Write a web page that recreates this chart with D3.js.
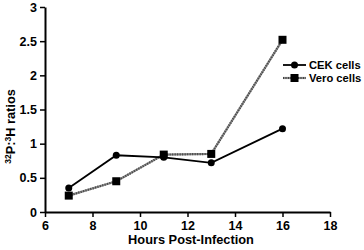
<!DOCTYPE html>
<html>
<head>
<meta charset="utf-8">
<script src="https://cdn.jsdelivr.net/npm/d3@7"></script>
<style>
  body { margin: 0; background: #fff; }
  text { font-family: "Liberation Sans", Arial, sans-serif; font-weight: bold; }
</style>
</head>
<body>
<svg width="364" height="250"></svg>
<script>
const hours = [7, 9, 11, 13, 16]
const cekValues = [0.35, 0.83, 0.80, 0.72, 1.22]
const veroValues = [0.24, 0.45, 0.84, 0.85, 2.52]
const xTicks = [6, 8, 10, 12, 14, 16, 18]
const yTicks = [0, 0.5, 1, 1.5, 2, 2.5, 3]

const svg = d3.select('svg')
const margin = { top: 7, right: 34, bottom: 38, left: 45 }
const width = +svg.attr('width') - margin.left - margin.right
const height = +svg.attr('height') - margin.top - margin.bottom
const g = svg.append('g').attr('transform', 'translate(' + margin.left + ',' + margin.top + ')')

const x = d3.scaleLinear().domain([6, 18]).range([0, width])
const y = d3.scaleLinear().domain([0, 3]).range([height, 0])

const xAxis = g.append('g')
  .attr('transform', 'translate(0,' + height + ')')
  .call(d3.axisBottom(x).tickValues(xTicks).tickSize(5).tickSizeOuter(0).tickPadding(4))
const yAxis = g.append('g')
  .call(d3.axisLeft(y).tickValues(yTicks).tickFormat(d3.format('')).tickSize(5).tickSizeOuter(0).tickPadding(3))

for (const ax of [xAxis, yAxis]) {
  ax.select('.domain').attr('stroke-width', 2)
  ax.selectAll('.tick line').attr('stroke-width', 1.5)
  ax.selectAll('text').attr('font-size', 12.5).attr('fill', '#000')
    .attr('font-family', '"Liberation Sans", Arial, sans-serif').attr('font-weight', 'bold')
}

const line = d3.line().x((d, i) => x(hours[i])).y(d => y(d))

// Vero cells - stippled grey
g.append('path').datum(veroValues)
  .attr('fill', 'none').attr('stroke', '#8a8a8a').attr('stroke-width', 2.2)
  .attr('d', line)
g.append('path').datum(veroValues)
  .attr('fill', 'none').attr('stroke', '#444').attr('stroke-width', 2.2)
  .attr('stroke-dasharray', '1,1.5')
  .attr('d', line)
g.selectAll('.vero').data(veroValues).enter().append('rect')
  .attr('x', (d, i) => x(hours[i]) - 4)
  .attr('y', d => y(d) - 4)
  .attr('width', 8).attr('height', 8)
  .attr('fill', '#000')

// CEK cells - solid black
g.append('path').datum(cekValues)
  .attr('fill', 'none').attr('stroke', '#000').attr('stroke-width', 1.8)
  .attr('d', line)
g.selectAll('.cek').data(cekValues).enter().append('circle')
  .attr('cx', (d, i) => x(hours[i]))
  .attr('cy', d => y(d))
  .attr('r', 3.5)
  .attr('fill', '#000')

// legend
const legend = svg.append('g').attr('transform', 'translate(283,65)')
legend.append('line').attr('x1', 0).attr('x2', 23).attr('y1', 0).attr('y2', 0)
  .attr('stroke', '#000').attr('stroke-width', 1.8)
legend.append('circle').attr('cx', 11.5).attr('cy', 0).attr('r', 3.5).attr('fill', '#000')
legend.append('text').attr('x', 26).attr('y', 4).attr('font-size', 11.2).text('CEK cells')

legend.append('line').attr('x1', 0).attr('x2', 23).attr('y1', 13).attr('y2', 13)
  .attr('stroke', '#8a8a8a').attr('stroke-width', 2.2)
legend.append('line').attr('x1', 0).attr('x2', 23).attr('y1', 13).attr('y2', 13)
  .attr('stroke', '#444').attr('stroke-width', 2.2).attr('stroke-dasharray', '1,1.5')
legend.append('rect').attr('x', 7.5).attr('y', 9).attr('width', 8).attr('height', 8).attr('fill', '#000')
legend.append('text').attr('x', 26).attr('y', 17).attr('font-size', 11.2).text('Vero cells')

// axis titles
svg.append('text')
  .attr('x', 191).attr('y', 244)
  .attr('text-anchor', 'middle').attr('font-size', 12.8)
  .text('Hours Post-Infection')

const yt = svg.append('text')
  .attr('transform', 'translate(15,' + (margin.top + height / 2 + 17) + ') rotate(-90)')
  .attr('text-anchor', 'middle').attr('font-size', 12.8)
yt.append('tspan').attr('font-size', 8.5).attr('dy', -4).text('32')
yt.append('tspan').attr('dy', 4).text('P:')
yt.append('tspan').attr('font-size', 8.5).attr('dy', -4).text('3')
yt.append('tspan').attr('dy', 4).text('H ratios')
</script>
</body>
</html>
